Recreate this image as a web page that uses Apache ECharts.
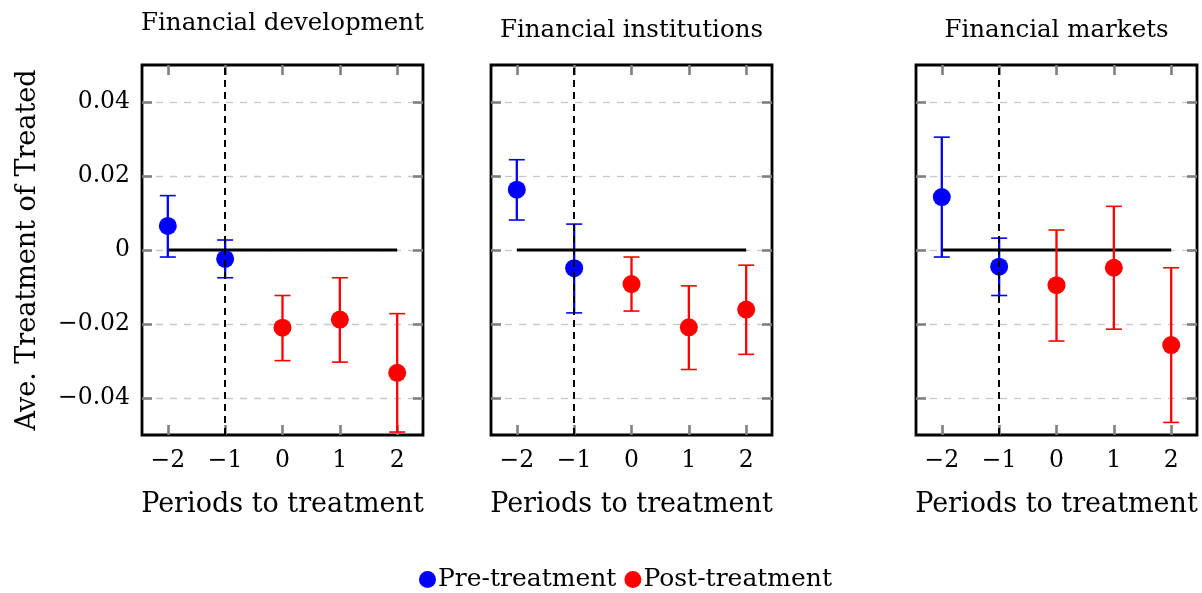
<!DOCTYPE html>
<html><head><meta charset="utf-8">
<script src="https://cdn.jsdelivr.net/npm/echarts@6/dist/echarts.min.js"></script>
<style>html,body{margin:0;padding:0;background:#fff}#c{width:1202px;height:593px}</style>
</head><body><div id="c"></div>
<script>
const periods = [-2, -1, 0, 1, 2];
const preCount = 2; // first two periods are pre-treatment
const xTicks = [-2, -1, 0, 1, 2];
const yTicks = [-0.04, -0.02, 0, 0.02, 0.04];
const panelTitles = ['Financial development', 'Financial institutions', 'Financial markets'];
const treatmentRef = -1;
const zeroRef = 0;

// Financial development
const fdEst  = [0.0065, -0.0024, -0.0210, -0.0188, -0.0332];
const fdLow  = [-0.0019, -0.0075, -0.0299, -0.0303, -0.0492];
const fdHigh = [0.0147, 0.0027, -0.0123, -0.0075, -0.0172];
// Financial institutions
const fiEst  = [0.0163, -0.0049, -0.0092, -0.0209, -0.0161];
const fiLow  = [0.0081, -0.0170, -0.0165, -0.0323, -0.0282];
const fiHigh = [0.0244, 0.0070, -0.0019, -0.0097, -0.0041];
// Financial markets
const fmEst  = [0.0143, -0.0045, -0.0095, -0.0048, -0.0257];
const fmLow  = [-0.0019, -0.0123, -0.0246, -0.0214, -0.0466];
const fmHigh = [0.0305, 0.0032, 0.0054, 0.0118, -0.0048];

const panels = [
  {est: fdEst, low: fdLow, high: fdHigh},
  {est: fiEst, low: fiLow, high: fiHigh},
  {est: fmEst, low: fmLow, high: fmHigh}
];

const FONT = 'DejaVu Serif';
const BLUE = '#0000ff', RED = '#ff0000';
const gridLefts = [142, 491, 916];
const gridW = 281, gridTop = 65, gridH = 370;
const titleTops = [11, 18, 18];

const fmtX = v => (v < 0 ? '\u2212' + Math.abs(v) : String(v));
const fmtY = v => (Math.abs(v) < 1e-9 ? '0' : (v < 0 ? '\u2212' : '') + Math.abs(v).toFixed(2));

function errRender(params, api) {
  const x = api.value(0), lo = api.value(1), hi = api.value(2);
  const a = api.coord([x, lo]), b = api.coord([x, hi]);
  const color = api.visual('color');
  const h = 8;
  return {
    type: 'group',
    children: [
      {type: 'line', shape: {x1: a[0], y1: a[1], x2: b[0], y2: b[1]}, style: {stroke: color, lineWidth: 2.3}},
      {type: 'line', shape: {x1: a[0] - h, y1: a[1], x2: a[0] + h, y2: a[1]}, style: {stroke: color, lineWidth: 1.6}},
      {type: 'line', shape: {x1: b[0] - h, y1: b[1], x2: b[0] + h, y2: b[1]}, style: {stroke: color, lineWidth: 1.6}}
    ]
  };
}

const grids = [], xAxes = [], yAxes = [], series = [], titles = [];
const tickStyle = {color: '#7f7f7f', width: 2.6};

panels.forEach((p, i) => {
  grids.push({left: gridLefts[i], top: gridTop, width: gridW, height: gridH,
    show: true, borderColor: '#000', borderWidth: 2.8, backgroundColor: 'transparent'});
  titles.push({text: panelTitles[i], left: gridLefts[i] + gridW / 2, top: titleTops[i], textAlign: 'center', padding: 0,
    textStyle: {fontFamily: FONT, fontSize: 24.5, fontWeight: 'normal', color: '#000'}});
  const xb = xAxes.length;
  xAxes.push({type: 'value', gridIndex: i, min: -2.45, max: 2.45, position: 'bottom',
    axisLine: {show: false, onZero: false},
    axisTick: {inside: true, length: 10, lineStyle: tickStyle, customValues: xTicks},
    axisLabel: {customValues: xTicks, formatter: fmtX, fontFamily: FONT, fontSize: 23.5, color: '#000', margin: 14},
    splitLine: {show: false},
    name: 'Periods to treatment', nameLocation: 'middle', nameGap: 56,
    nameTextStyle: {fontFamily: FONT, fontSize: 27, color: '#000'}});
  xAxes.push({type: 'value', gridIndex: i, min: -2.45, max: 2.45, position: 'top',
    axisLine: {show: false, onZero: false},
    axisTick: {inside: true, length: 10, lineStyle: tickStyle, customValues: xTicks},
    axisLabel: {show: false}, splitLine: {show: false}});
  const yb = yAxes.length;
  yAxes.push({type: 'value', gridIndex: i, min: -0.05, max: 0.05, position: 'left',
    axisLine: {show: false, onZero: false},
    axisTick: {inside: true, length: 10, lineStyle: tickStyle, customValues: yTicks},
    axisLabel: {show: i === 0, customValues: yTicks, formatter: fmtY, fontFamily: FONT, fontSize: 23.5, color: '#000', margin: 12},
    splitLine: {show: true, lineStyle: {color: '#c8c8c8', width: 1.3, type: [7, 7]}},
    name: i === 0 ? 'Ave. Treatment of Treated' : '', nameLocation: 'middle', nameGap: 101,
    nameTextStyle: {fontFamily: FONT, fontSize: 27, color: '#000'}});
  yAxes.push({type: 'value', gridIndex: i, min: -0.05, max: 0.05, position: 'right',
    axisLine: {show: false, onZero: false},
    axisTick: {inside: true, length: 10, lineStyle: tickStyle, customValues: yTicks},
    axisLabel: {show: false}, splitLine: {show: false}});

  // zero reference line from first to last period, with treatment marker line
  series.push({type: 'line', xAxisIndex: xb, yAxisIndex: yb, symbol: 'none', silent: true, z: 2,
    data: [[periods[0], zeroRef], [periods[periods.length - 1], zeroRef]],
    lineStyle: {color: '#000', width: 2.8},
    markLine: {symbol: 'none', silent: true, label: {show: false},
      lineStyle: {color: '#000', width: 2, type: [7, 5]},
      data: [{xAxis: treatmentRef}]}});

  const pre = [], post = [], preErr = [], postErr = [];
  periods.forEach((x, k) => {
    (k < preCount ? pre : post).push([x, p.est[k]]);
    (k < preCount ? preErr : postErr).push([x, p.low[k], p.high[k]]);
  });
  series.push({type: 'custom', name: 'Pre-treatment', xAxisIndex: xb, yAxisIndex: yb, color: BLUE, z: 3,
    renderItem: errRender, encode: {x: 0, y: [1, 2]}, data: preErr});
  series.push({type: 'custom', name: 'Post-treatment', xAxisIndex: xb, yAxisIndex: yb, color: RED, z: 3,
    renderItem: errRender, encode: {x: 0, y: [1, 2]}, data: postErr});
  series.push({type: 'scatter', name: 'Pre-treatment', xAxisIndex: xb, yAxisIndex: yb, color: BLUE, z: 4,
    symbol: 'circle', symbolSize: 18, itemStyle: {opacity: 1}, data: pre});
  series.push({type: 'scatter', name: 'Post-treatment', xAxisIndex: xb, yAxisIndex: yb, color: RED, z: 4,
    symbol: 'circle', symbolSize: 18, itemStyle: {opacity: 1}, data: post});
});

const chart = echarts.init(document.getElementById('c'), null, {renderer: 'canvas'});
chart.setOption({
  animation: false,
  backgroundColor: '#fff',
  title: titles,
  grid: grids,
  xAxis: xAxes,
  yAxis: yAxes,
  legend: {
    data: [{name: 'Pre-treatment', icon: 'circle'}, {name: 'Post-treatment', icon: 'circle'}],
    left: 414, top: 562, itemWidth: 17, itemHeight: 17, itemGap: 8,
    itemStyle: {opacity: 1},
    textStyle: {fontFamily: FONT, fontSize: 25, color: '#000', padding: [0, 0, 0, -3]}
  },
  series: series
});
</script>
</body></html>
